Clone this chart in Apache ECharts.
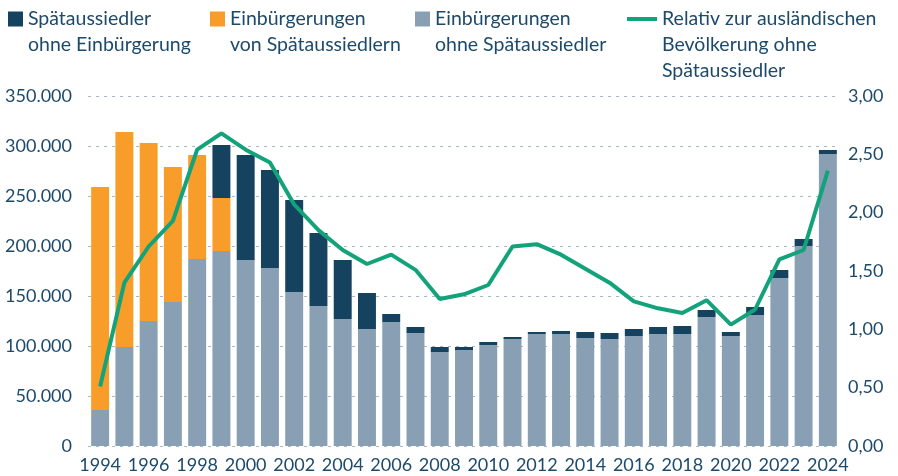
<!DOCTYPE html>
<html><head><meta charset="utf-8">
<script src="https://cdn.jsdelivr.net/npm/echarts@6/dist/echarts.min.js"></script>
<style>html,body{margin:0;padding:0;background:#fff}#c{width:898px;height:476px}</style>
</head><body><div id="c"></div>
<script>
const years = ['1994','1995','1996','1997','1998','1999','2000','2001','2002','2003','2004','2005','2006','2007','2008','2009','2010','2011','2012','2013','2014','2015','2016','2017','2018','2019','2020','2021','2022','2023','2024'];
const ohneSpaet = [36000,99000,125000,144000,187000,195000,186000,178000,154000,140000,127000,117000,124000,113000,94000,96000,101000,107000,112000,112000,108000,107000,110000,112000,112000,129000,110000,131000,168000,200000,292000];
const vonSpaet = [223000,215000,178000,135000,104000,53000,0,0,0,0,0,0,0,0,0,0,0,0,0,0,0,0,0,0,0,0,0,0,0,0,0];
const spaetOhne = [0,0,0,0,0,53000,105000,98000,92000,73000,59000,36000,8000,6000,5000,3000,3000,2000,2000,3000,6000,6000,7000,7000,8000,7000,4000,8000,8000,7000,4000];
const relativ = [0.51,1.40,1.71,1.93,2.54,2.68,2.54,2.43,2.07,1.85,1.68,1.56,1.64,1.51,1.26,1.30,1.38,1.71,1.73,1.64,1.52,1.40,1.24,1.18,1.14,1.25,1.04,1.17,1.60,1.68,2.36];

const names = ['Spätaussiedler\nohne Einbürgerung','Einbürgerungen\nvon Spätaussiedlern','Einbürgerungen\nohne Spätaussiedler','Relativ zur ausländischen\nBevölkerung ohne\nSpätaussiedler'];
const TXT = '#1d4a6b';
const FONT = 'Lato';
const LH = 26;
const ICON_CY = 19;
function legendFor(name, left, isLine){
  const lines = name.split('\n').length;
  const pre = '\n'.repeat(lines - 1);
  const total = 2 * lines - 1;
  return {
    data: [name], left: left, top: ICON_CY - total * LH / 2, orient: 'horizontal',
    padding: 0, icon: 'rect',
    itemWidth: isLine ? 30 : 15, itemHeight: isLine ? 4 : 15, itemGap: isLine ? 3 : 6,
    formatter: n => pre + n,
    textStyle: { color: TXT, fontSize: 19.5, fontFamily: FONT, lineHeight: LH }
  };
}
const chart = echarts.init(document.getElementById('c'), null, {renderer:'canvas'});
chart.setOption({
  animation: false,
  textStyle: { fontFamily: FONT },
  legend: [
    legendFor(names[0], 8, false),
    legendFor(names[1], 210, false),
    legendFor(names[2], 415, false),
    legendFor(names[3], 627, true)
  ],
  grid: { left: 88, right: 58, top: 96, bottom: 30, containLabel: false },
  xAxis: {
    type: 'category', data: years,
    axisLine: { show: false }, axisTick: { show: false },
    axisLabel: { interval: 1, color: TXT, fontSize: 18, fontFamily: FONT, margin: 10 }
  },
  yAxis: [
    { type: 'value', min: 0, max: 350000, interval: 50000,
      axisLine: { show: false }, axisTick: { show: false },
      splitLine: { show: true, lineStyle: { color: '#a9b8c6', type: [3, 5], width: 1 } },
      axisLabel: { color: TXT, fontSize: 18, fontFamily: FONT, margin: 16,
        formatter: v => v === 0 ? '0' : String(v).replace(/\B(?=(\d{3})+(?!\d))/g, '.') } },
    { type: 'value', min: 0, max: 3, interval: 0.5,
      axisLine: { show: false }, axisTick: { show: false }, splitLine: { show: false },
      axisLabel: { color: TXT, fontSize: 18, fontFamily: FONT, margin: 8,
        formatter: v => v.toFixed(2).replace('.', ',') } }
  ],
  series: [
    { name: names[2], type: 'bar', stack: 's', data: ohneSpaet, itemStyle: { color: '#89a0b4' }, barCategoryGap: '26%' },
    { name: names[1], type: 'bar', stack: 's', data: vonSpaet, itemStyle: { color: '#f89d2a' } },
    { name: names[0], type: 'bar', stack: 's', data: spaetOhne, itemStyle: { color: '#15425f' } },
    { name: names[3], type: 'line', yAxisIndex: 1, data: relativ, showSymbol: false, symbol: 'none',
      lineStyle: { color: '#13a37b', width: 4 }, itemStyle: { color: '#13a37b' }, z: 5 }
  ]
});
</script></body></html>
